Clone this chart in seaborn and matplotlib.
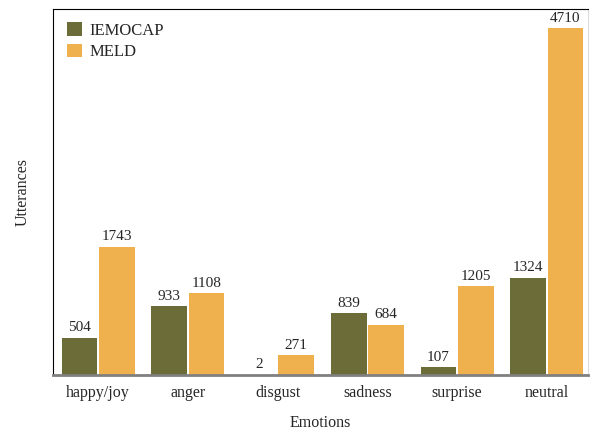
import seaborn as sns
from matplotlib import pyplot as plt
import pandas as pd

emotions = ['happy/joy', 'anger', 'disgust', 'sadness', 'surprise', 'neutral']
iemocap = [504, 933, 2, 839, 107, 1324]
meld = [1743, 1108, 271, 684, 1205, 4710]
datasets = ['IEMOCAP', 'MELD']
colors = ['#6b6c37', '#efb04e']

df = pd.DataFrame({
    'Emotions': emotions * 2,
    'Utterances': iemocap + meld,
    'Dataset': [datasets[0]] * len(emotions) + [datasets[1]] * len(emotions),
})

sns.set_style('white')
plt.rcParams['font.family'] = ['Liberation Serif', 'DejaVu Serif']

fig, ax = plt.subplots(figsize=(5.91, 4.30), dpi=100)
sns.barplot(data=df, x='Emotions', y='Utterances', hue='Dataset',
            palette=colors, width=0.83, gap=0.04, saturation=1,
            linewidth=0, ax=ax)
for c in ax.containers:
    ax.bar_label(c, padding=2.5, fontsize=11)

ax.set_xlim(-0.5, 5.46)
ax.set_ylim(0, 4980)
ax.set_yticks([])
ax.tick_params(axis='x', length=0, labelsize=11.5, pad=7)
ax.set_xlabel('Emotions', fontsize=11.5, labelpad=10)
ax.set_ylabel('Utterances', fontsize=11.5, labelpad=16)

ax.spines['left'].set_color('black')
ax.spines['top'].set_color('black')
ax.spines['bottom'].set_color('#808080')
ax.spines['bottom'].set_linewidth(2)
ax.spines['right'].set_color('#dddddd')

ax.legend(frameon=False, loc='upper left', fontsize=12, handlelength=0.9,
          handleheight=0.9, handletextpad=0.5, borderaxespad=0.4,
          labelspacing=0.3)

plt.subplots_adjust(left=0.09, right=0.995, top=0.98, bottom=0.128)
plt.savefig('out.png')
